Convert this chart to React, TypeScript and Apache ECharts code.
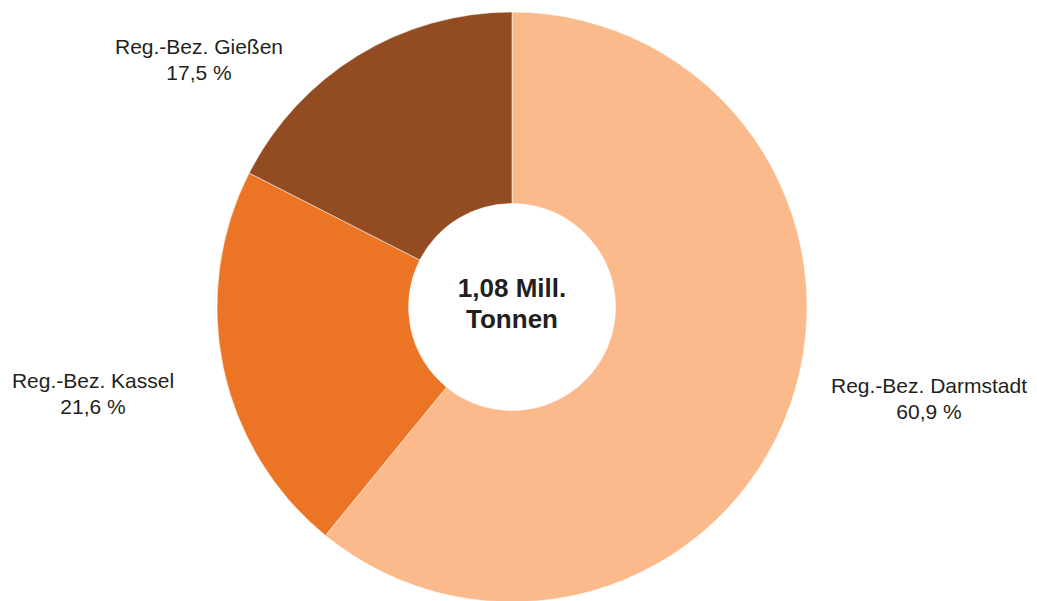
import React, { useEffect, useRef } from "react";
import * as echarts from "echarts";

const categories = ["Reg.-Bez. Darmstadt", "Reg.-Bez. Kassel", "Reg.-Bez. Gießen"];
const shares = [60.9, 21.6, 17.5];
const colors = ["#FBBA8B", "#EB7425", "#934C22"];
const centerLines = ["1,08 Mill.", "Tonnen"];
const labelPos = [
  [929, 398],
  [93, 393],
  [199, 59],
];

const fmt = (v: number) => v.toFixed(1).replace(".", ",");

export default function App() {
  const ref = useRef<HTMLDivElement>(null);
  useEffect(() => {
    if (!ref.current) return;
    const chart = echarts.init(ref.current, null, { renderer: "svg" });
    chart.setOption({
      animation: false,
      backgroundColor: "#ffffff",
      series: [
        {
          type: "pie",
          center: [512, 307],
          radius: [103.5, 295],
          startAngle: 90,
          clockwise: true,
          silent: true,
          itemStyle: { borderColor: "#ffffff", borderWidth: 0.5 },
          data: categories.map((c, i) => ({
            name: c,
            value: shares[i],
            itemStyle: { color: colors[i] },
          })),
          label: {
            show: true,
            position: "inside",
            formatter: (p: any) => `${p.name}\n${fmt(p.value)} %`,
            fontFamily: "'Liberation Sans', Arial, sans-serif",
            fontSize: 21,
            lineHeight: 26,
            color: "#231F20",
            align: "center",
            overflow: "none",
          },
          labelLine: { show: false },
          labelLayout: (p: any) => ({
            x: labelPos[p.dataIndex][0],
            y: labelPos[p.dataIndex][1],
            align: "center",
            verticalAlign: "middle",
          }),
        },
      ],
      graphic: [
        {
          type: "text",
          x: 512,
          y: 303,
          style: {
            text: centerLines.join("\n"),
            fontFamily: "'Liberation Sans', Arial, sans-serif",
            fontSize: 26,
            fontWeight: "bold",
            lineHeight: 31,
            fill: "#231F20",
            align: "center",
            verticalAlign: "middle",
          },
        },
      ],
    });
    return () => chart.dispose();
  }, []);
  return (
    <div
      ref={ref}
      style={{ position: "absolute", left: 0, top: 0, width: 1037, height: 601 }}
    />
  );
}
